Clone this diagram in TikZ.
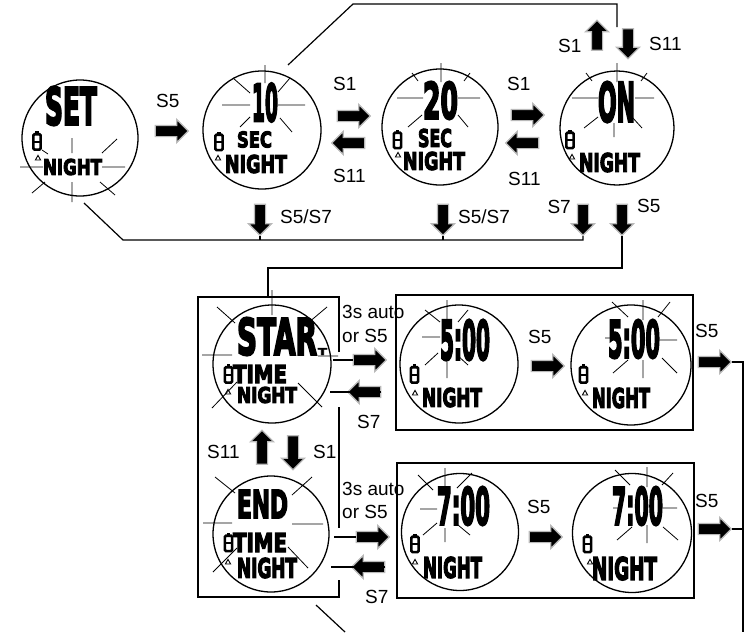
\documentclass[tikz,border=0pt]{standalone}
\usepackage{fontspec}
\setmainfont{Liberation Sans}
\newfontfamily\lcdfont{DejaVu Sans}[BoldFeatures={FakeBold=5}]
\usetikzlibrary{shapes.arrows}
\newcommand\lcd[3]{\resizebox{#1pt}{#2pt}{\lcdfont\bfseries #3}}
\tikzset{
  disp/.style={circle, draw, line width=1.3pt, minimum size=116pt, inner sep=0pt},
  lcdtxt/.style={inner sep=0pt, anchor=center},
  lbl/.style={inner sep=0pt, font=\fontsize{19}{22}\selectfont},
  barrow/.style={single arrow, fill=black, draw=gray!55, line width=1.2pt,
    inner xsep=0pt, inner ysep=5pt, single arrow head extend=6pt,
    minimum height=33pt, minimum width=22pt, single arrow tip angle=90},
  ray/.style={line width=0.8pt},
  conn/.style={line width=1.2pt},
  boxf/.style={draw, line width=1.3pt},
  battery/.pic={
    \draw[line width=2.6pt, rounded corners=1.2pt] (-3.6,-6.8) rectangle (3.6,8.6);
    \draw[line width=2pt] (-3.6,0.9)--(3.6,0.9);
    \fill (-1.8,-7) rectangle (1.8,-9.8);},
  drop/.pic={\draw[line width=0.9pt] (-2.6,2)--(0,-2.6)--(2.6,2)--cycle;}
}
\begin{document}
\begin{tikzpicture}[x=1pt,y=-1pt]
\useasboundingbox (0,0) rectangle (751,632);

% ---------- top row displays ----------
\node[disp] (cSET) at (80,138) {};
\node[lcdtxt] (tSET) at (71,106) {\lcd{52}{38}{SET}};
\node[lcdtxt] (nSET) at (72.5,167) {\lcd{59}{16}{NIGHT}};
\pic at (37,141) {battery};
\pic at (38,158) {drop};
\draw[ray] (20,167)--(43,167) (102,167)--(125,167) (72,138)--(72,153) (72,182)--(72,202)
  (117,139)--(102,153) (42,150)--(48,154) (32,193)--(45,182) (115,195)--(100,182);

\node[disp, minimum size=118pt] (c10) at (262,130) {};
\node[lcdtxt] (t10) at (265,102.5) {\lcd{26}{38}{10}};
\node[lcdtxt] (s10) at (254.5,139.5) {\lcd{35}{16}{SEC}};
\node[lcdtxt] (n10) at (256,164) {\lcd{62}{18}{NIGHT}};
\pic at (219,141.5) {battery};
\pic at (218,158) {drop};
\draw[ray] (265,65)--(265,83) (222,105)--(250,105) (278,105)--(305,105)
  (233,78)--(250,93) (290,78)--(278,92) (240,127)--(250,117) (292,132)--(280,118);

\node[disp] (c20) at (440,127) {};
\node[lcdtxt] (t20) at (440.5,100.5) {\lcd{35}{37}{20}};
\node[lcdtxt] (s20) at (435,138) {\lcd{34}{18}{SEC}};
\node[lcdtxt] (n20) at (434,161) {\lcd{62}{18}{NIGHT}};
\pic at (397.5,139.5) {battery};
\pic at (398,155) {drop};
\draw[ray] (441,63)--(441,82) (397,98)--(423,98) (458,98)--(480,98)
  (408,127)--(422,115) (468,127)--(458,115) (412,73)--(418,81) (470,73)--(464,81);

\node[disp, minimum size=114pt] (cON) at (617,128) {};
\node[lcdtxt] (tON) at (616.5,102) {\lcd{37}{40}{ON}};
\node[lcdtxt] (nON) at (609.5,162.5) {\lcd{61}{19}{NIGHT}};
\pic at (570,139.5) {battery};
\pic at (572,157) {drop};
\draw[ray] (617,63)--(617,82) (572,98)--(598,98) (635,98)--(654,98) (614,123)--(614,137)
  (584,128)--(598,117) (642,128)--(632,117) (586,73)--(592,81) (647,73)--(641,81);

% ---------- top row arrows and labels ----------
\node[barrow] (aS5) at (169,131) {};
\node[lbl, anchor=base west] (lS5) at (156,107) {S5};
\node[barrow] (a1r) at (351,116) {};
\node[barrow, rotate=180] (a1l) at (351,143) {};
\node[lbl, anchor=base west] (l1r) at (333,90) {S1};
\node[lbl, anchor=base west] (l1l) at (333,182) {S11};
\node[barrow] (a2r) at (525,115) {};
\node[barrow, rotate=180] (a2l) at (525,143) {};
\node[lbl, anchor=base west] (l2r) at (507,90) {S1};
\node[lbl, anchor=base west] (l2l) at (508,185) {S11};
\node[barrow, rotate=90, minimum height=30pt] (aUp) at (597,38) {};
\node[barrow, rotate=-90, minimum height=30pt] (aDn) at (628,41) {};
\node[lbl, anchor=base west] (lUp) at (558,52) {S1};
\node[lbl, anchor=base west] (lDn) at (649,50) {S11};

\node[barrow, rotate=-90, minimum height=31pt] (dA) at (260,217) {};
\node[barrow, rotate=-90, minimum height=31pt] (dB) at (443,217) {};
\node[barrow, rotate=-90, minimum height=31pt] (dS7) at (583,217) {};
\node[barrow, rotate=-90, minimum height=31pt] (dS5) at (622,217) {};
\node[lbl, anchor=base west] (ldA) at (280,223) {S5/S7};
\node[lbl, anchor=base west] (ldB) at (458,223) {S5/S7};
\node[lbl, anchor=base east] (ldS7) at (571,213) {S7};
\node[lbl, anchor=base west] (ldS5) at (637,212) {S5};

% ---------- top connectors ----------
\coordinate (t0) at (288,65);
\coordinate (t1) at (353,4);
\coordinate (t2) at (617,27);
\draw[conn] (t0) -- (t1) -| (t2);
\coordinate (b0) at (84,203);
\coordinate (bl) at (123,240);
\draw[conn] (b0) -- (bl) -| (dS7.tip);
\draw[conn] (dA.tip) -- (dA.tip |- bl);
\draw[conn] (dB.tip) -- (dB.tip |- bl);
\coordinate (m1) at (268,268);
\coordinate (m2) at (268,298);
\draw[conn] (dS5.tip) |- (m1) -- (m2);

% ---------- START / END box ----------
\draw[boxf] (339,352) -- (339,297) -- (198,297) -- (198,597) -- (339,597) -- (339,580);
\draw[boxf] (339,407) -- (339,528);

\node[disp, minimum size=118pt] (cSTART) at (272,364) {};
\node[lcdtxt] (tSTART) at (277,336.5) {\lcd{80}{37}{STAR}};
\node[lcdtxt] (tT) at (322.5,351.5) {\lcd{9}{7}{T}};
\node[lcdtxt] (tTIME1) at (260,374) {\lcd{54}{18}{TIME}};
\node[lcdtxt] (nSTART) at (267,395) {\lcd{60}{16}{NIGHT}};
\pic at (228.5,374) {battery};
\pic at (228,392) {drop};
\draw[ray] (272,290)--(272,315) (202,355)--(232,355) (318,356)--(338,356)
  (217,307)--(235,323) (327,307)--(308,323) (212,408)--(237,382) (322,407)--(298,383);

\node[disp, minimum size=116pt] (cEND) at (271,534) {};
\node[lcdtxt] (tEND) at (262.5,504) {\lcd{51}{28}{END}};
\node[lcdtxt] (tTIME2) at (260,542.5) {\lcd{54}{19}{TIME}};
\node[lcdtxt] (nEND) at (267,568) {\lcd{60}{20}{NIGHT}};
\pic at (228.5,542.5) {battery};
\pic at (228,562) {drop};
\draw[ray] (215,477)--(235,493) (312,477)--(292,495) (203,523)--(232,523) (292,524)--(323,524)
  (213,572)--(237,548) (308,568)--(288,547);

\node[barrow] (aSt1) at (367,360) {};
\node[barrow, rotate=180] (aSt2) at (367,392) {};
\node[barrow] (aEn1) at (370,537) {};
\node[barrow, rotate=180] (aEn2) at (371,567) {};
\draw[conn] (333,360) -- (aSt1.tail);
\draw[conn] (aSt2.tail) -- (330,392);
\draw[conn] (334,537) -- (aEn1.tail);
\draw[conn] (aEn2.tail) -- (331,567);
\node[lbl, anchor=base west] (l3a) at (342,318) {3s auto};
\node[lbl, anchor=base west] (l3b) at (342,342) {or S5};
\node[lbl, anchor=base west] (l3c) at (357,428) {S7};
\node[lbl, anchor=base west] (l4a) at (342,495) {3s auto};
\node[lbl, anchor=base west] (l4b) at (342,518) {or S5};
\node[lbl, anchor=base west] (l4c) at (365,603) {S7};

\node[barrow, rotate=90, minimum height=34pt] (aUp2) at (262,450) {};
\node[barrow, rotate=-90, minimum height=34pt] (aDn2) at (293,450) {};
\node[lbl, anchor=base west] (lUp2) at (207,458) {S11};
\node[lbl, anchor=base west] (lDn2) at (313,458) {S1};

% ---------- 5:00 box ----------
\draw[boxf] (396,295) rectangle (693,430);
\node[disp, minimum size=118pt] (c500a) at (459,364) {};
\node[lcdtxt] (t500a) at (465,340) {\lcd{50}{40}{5:00}};
\node[lcdtxt] (n500a) at (452,397.5) {\lcd{60}{19}{NIGHT}};
\pic at (414.5,374) {battery};
\pic at (415,393) {drop};
\draw[ray] (447,300)--(447,320) (447,362)--(447,378) (422,337)--(440,337)
  (425,310)--(440,322) (468,310)--(458,322) (425,365)--(438,353) (468,365)--(457,355);

\node[disp, minimum size=120pt] (c500b) at (631,365) {};
\node[lcdtxt] (t500b) at (634,339) {\lcd{52}{38}{5:00}};
\node[lcdtxt] (n500b) at (621,398) {\lcd{58}{20}{NIGHT}};
\pic at (583.5,374) {battery};
\pic at (585,393) {drop};
\draw[ray] (643,300)--(643,320) (643,360)--(643,378) (660,340)--(677,340) (605,338)--(612,338)
  (612,302)--(628,317) (670,302)--(658,317) (613,373)--(628,360) (677,373)--(662,358);

\node[barrow] (a5m) at (545,366) {};
\node[lbl, anchor=base west] (l5m) at (528,343) {S5};
\node[barrow] (a5o) at (712,362) {};
\node[lbl, anchor=base west] (l5o) at (695,337) {S5};

% ---------- 7:00 box ----------
\draw[boxf] (397,463) rectangle (694,598);
\node[disp, minimum size=117pt] (c700a) at (460,532) {};
\node[lcdtxt] (t700a) at (463.5,506) {\lcd{53}{38}{7:00}};
\node[lcdtxt] (n700a) at (452.5,567.5) {\lcd{59}{21}{NIGHT}};
\pic at (415,543.5) {battery};
\pic at (415,562) {drop};
\draw[ray] (445,468)--(445,487) (445,528)--(445,542) (420,509)--(437,509)
  (418,475)--(433,490) (472,473)--(457,488) (423,535)--(437,523) (470,535)--(458,525);

\node[disp, minimum size=119pt] (c700b) at (632,533) {};
\node[lcdtxt] (t700b) at (637.5,506) {\lcd{51}{38}{7:00}};
\node[lcdtxt] (n700b) at (624.5,568.5) {\lcd{65}{23}{NIGHT}};
\pic at (587.5,543.5) {battery};
\pic at (590,562) {drop};
\draw[ray] (647,467)--(647,487) (647,525)--(647,543) (663,508)--(677,508) (613,508)--(620,508)
  (615,470)--(630,485) (673,473)--(662,485) (617,540)--(632,527) (678,540)--(663,527);

\node[barrow] (a7m) at (543,537) {};
\node[lbl, anchor=base west] (l7m) at (527,513) {S5};
\node[barrow] (a7o) at (712,529) {};
\node[lbl, anchor=base west] (l7o) at (695,507) {S5};

% ---------- right-hand and bottom connectors ----------
\coordinate (v0) at (743,632);
\draw[conn] (a5o.tip) -| (v0);
\draw[conn] (a7o.tip) -- (a7o.tip -| v0);
\coordinate (d0) at (316,605);
\coordinate (d1) at (345,632);
\draw[conn] (d0) -- (d1);
\end{tikzpicture}
\end{document}
